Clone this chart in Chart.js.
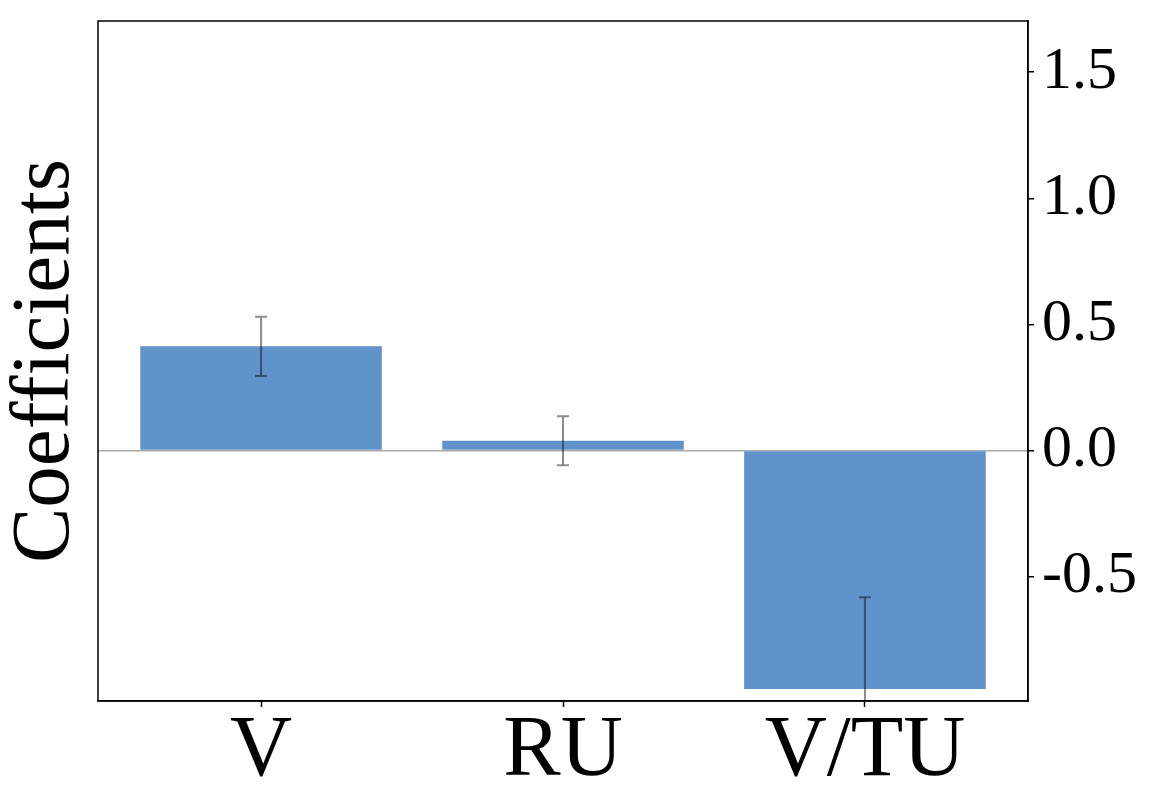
<!DOCTYPE html>
<html>
<head>
<meta charset="utf-8">
<script src="https://cdn.jsdelivr.net/npm/chart.js@4.4.1/dist/chart.umd.min.js"></script>
<style>
  body { margin: 0; background: #fff; }
</style>
</head>
<body>
<canvas id="coefChart" width="1157" height="807"></canvas>
<script>
// Data
const categories = ['V', 'RU', 'V/TU'];
const coefValues = [0.413, 0.039, -0.945];
const coefErrors = [0.117, 0.097, 0.363];
const yTickValues = [-0.5, 0.0, 0.5, 1.0, 1.5];

const barColor = 'rgb(96, 147, 202)';
const serif = "'Liberation Serif', 'DejaVu Serif', serif";

// Error bars drawn on top of the bars, clipped to the plot area
const errorBarPlugin = {
    id: 'errorBars',
    afterDatasetsDraw(chart) {
        const { ctx, chartArea, scales } = chart;
        ctx.save();
        ctx.beginPath();
        ctx.rect(chartArea.left, chartArea.top, chartArea.right - chartArea.left, chartArea.bottom - chartArea.top);
        ctx.clip();
        ctx.strokeStyle = 'rgba(0, 0, 0, 0.45)';
        ctx.lineWidth = 2;
        coefValues.forEach((v, i) => {
            const x = scales.x.getPixelForValue(i);
            const yHi = scales.y.getPixelForValue(v + coefErrors[i]);
            const yLo = scales.y.getPixelForValue(v - coefErrors[i]);
            ctx.beginPath();
            ctx.moveTo(x, yHi);
            ctx.lineTo(x, yLo);
            ctx.moveTo(x - 6, yHi);
            ctx.lineTo(x + 6, yHi);
            ctx.moveTo(x - 6, yLo);
            ctx.lineTo(x + 6, yLo);
            ctx.stroke();
        });
        ctx.restore();
    }
};

// Black box round the plot area
const framePlugin = {
    id: 'frame',
    afterDraw(chart) {
        const { ctx, chartArea } = chart;
        ctx.save();
        ctx.strokeStyle = '#000';
        ctx.lineWidth = 1.5;
        ctx.strokeRect(chartArea.left, chartArea.top, chartArea.right - chartArea.left, chartArea.bottom - chartArea.top);
        ctx.restore();
    }
};

const ctx = document.getElementById('coefChart').getContext('2d');
new Chart(ctx, {
    type: 'bar',
    data: {
        datasets: [{
            data: coefValues.map((v, i) => ({ x: i, y: v })),
            backgroundColor: barColor,
            borderWidth: 0,
            barPercentage: 0.8,
            categoryPercentage: 1.0
        }]
    },
    options: {
        responsive: false,
        animation: false,
        layout: { padding: { top: 21, left: 0, right: 0, bottom: 0 } },
        plugins: {
            legend: { display: false },
            tooltip: { enabled: false }
        },
        scales: {
            x: {
                type: 'linear',
                offset: false,
                min: -0.54,
                max: 2.54,
                afterBuildTicks: (scale) => { scale.ticks = categories.map((c, i) => ({ value: i })); },
                afterFit: (scale) => {
                    scale.height = 106;
                    scale.paddingLeft = 0;
                    scale.paddingRight = 0;
                },
                ticks: {
                    callback: (v) => categories[v],
                    font: { family: serif, size: 86 },
                    color: '#000',
                    padding: -6,
                    maxRotation: 0,
                    autoSkip: false
                },
                grid: {
                    offset: false,
                    drawOnChartArea: false,
                    drawTicks: true,
                    tickLength: 6,
                    tickColor: '#000',
                    tickWidth: 1.5
                },
                border: { display: true, color: '#000', width: 1.5 }
            },
            y: {
                position: 'right',
                min: -0.993,
                max: 1.703,
                afterBuildTicks: (scale) => { scale.ticks = yTickValues.map(v => ({ value: v })); },
                afterFit: (scale) => {
                    scale.width = 129;
                    scale.paddingTop = 0;
                    scale.paddingBottom = 0;
                },
                ticks: {
                    callback: (v) => v.toFixed(1),
                    font: { family: serif, size: 60 },
                    color: '#000',
                    padding: 8
                },
                grid: {
                    drawOnChartArea: true,
                    color: (c) => (c.tick && c.tick.value === 0) ? '#aaaaaa' : 'rgba(0,0,0,0)',
                    lineWidth: 1.5,
                    drawTicks: true,
                    tickLength: 6,
                    tickColor: '#000',
                    tickWidth: 1.5
                },
                border: { display: true, color: '#000', width: 1.5 }
            },
            yTitle: {
                type: 'linear',
                position: 'left',
                afterFit: (scale) => {
                    scale.width = 98;
                    scale.paddingTop = 0;
                    scale.paddingBottom = 0;
                },
                ticks: { display: false },
                grid: { display: false },
                border: { display: false },
                title: {
                    display: true,
                    text: 'Coefficients',
                    color: '#000',
                    font: { family: serif, size: 83, lineHeight: 1 },
                    padding: { top: 5, bottom: 0 }
                }
            }
        }
    },
    plugins: [errorBarPlugin, framePlugin]
});
</script>
</body>
</html>
